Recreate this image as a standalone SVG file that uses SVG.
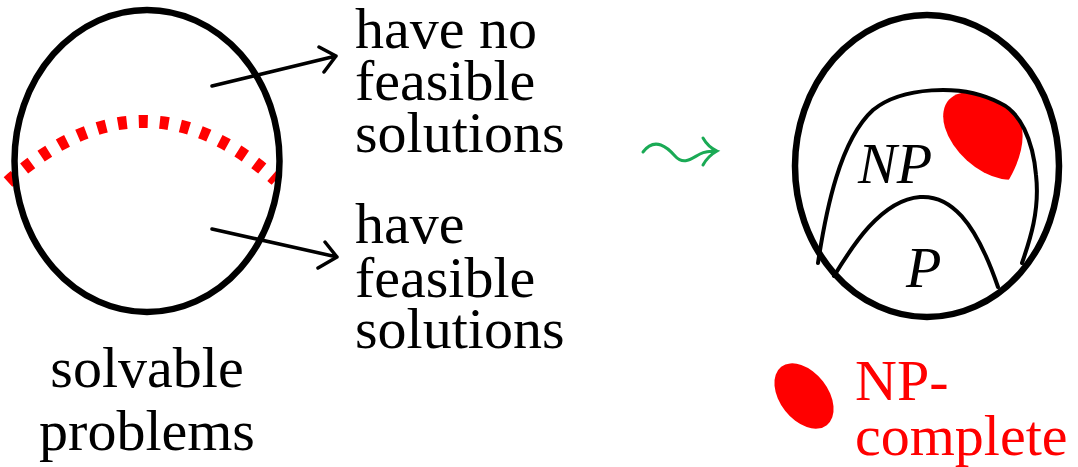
<svg xmlns="http://www.w3.org/2000/svg" width="1078" height="467" viewBox="0 0 1078 467">
<style>
.t{font-family:"Liberation Serif","Times New Roman",serif;font-size:58px;fill:#000}
.it{font-style:italic}
.red{fill:#ff0000}
.ln{fill:none;stroke:#000;stroke-linecap:round;stroke-linejoin:round}
</style>
<defs>
<clipPath id="npclip"><path d="M818,263 C826,210 840,140 873,110 C900,88 960,82 1000,103 C1020,112 1033,140 1036,175 C1040,210 1030,240 1022,263 Z"/></clipPath>
</defs>
<rect width="1078" height="467" fill="#fff"/>
<g id="solvable">
<path d="M8,182 Q143,62 276,180" fill="none" stroke="#ff0000" stroke-width="13" stroke-dasharray="9,12"/>
<ellipse cx="147" cy="161" rx="132.5" ry="151" fill="none" stroke="#000" stroke-width="6.5"/>
<text class="t" x="147" y="387" text-anchor="middle">solvable</text>
<text class="t" x="147" y="450" text-anchor="middle">problems</text>
</g>
<g id="no-feasible">
<text class="t" x="355" y="48">have no</text>
<text class="t" x="355" y="100">feasible</text>
<text class="t" x="355" y="152">solutions</text>
</g>
<g id="feasible">
<text class="t" x="355" y="243">have</text>
<text class="t" x="355" y="297">feasible</text>
<text class="t" x="355" y="348">solutions</text>
</g>
<g id="connectors">
<path class="ln" stroke-width="3.5" d="M212,86 L336,56 M319,47 L336,56 L324,72"/>
<path class="ln" stroke-width="3.5" d="M212,229 L337,257 M325,242 L337,257 L318,268"/>
<path d="M643,152 C655,136 668,148 675,156 C684,166 692,158 700,154 C706,151 712,151 717,151 M703,138 Q708,147 717,151 Q708,156 703,165" fill="none" stroke="#1aaa55" stroke-width="3" stroke-linecap="round"/>
</g>
<g id="np-diagram">
<ellipse cx="927" cy="166" rx="132" ry="151" fill="none" stroke="#000" stroke-width="6.5"/>
<ellipse cx="989" cy="136" rx="54" ry="33" transform="rotate(42 989 136)" class="red" clip-path="url(#npclip)"/>
<path class="ln" stroke-width="4" d="M818,263 C826,210 840,140 873,110 C900,88 960,82 1000,103 C1020,112 1033,140 1036,175 C1040,210 1030,240 1022,263"/>
<path class="ln" stroke-width="4" d="M834,276 C850,250 880,200 920,197 C950,195 975,220 998,287"/>
<text class="t it" x="858" y="183">NP</text>
<text class="t it" x="906" y="287">P</text>
</g>
<g id="legend">
<ellipse cx="804" cy="396" rx="37" ry="24" transform="rotate(52 804 396)" class="red"/>
<text class="t red" x="855" y="400">NP-</text>
<text class="t red" x="855" y="455">complete</text>
</g>
</svg>
